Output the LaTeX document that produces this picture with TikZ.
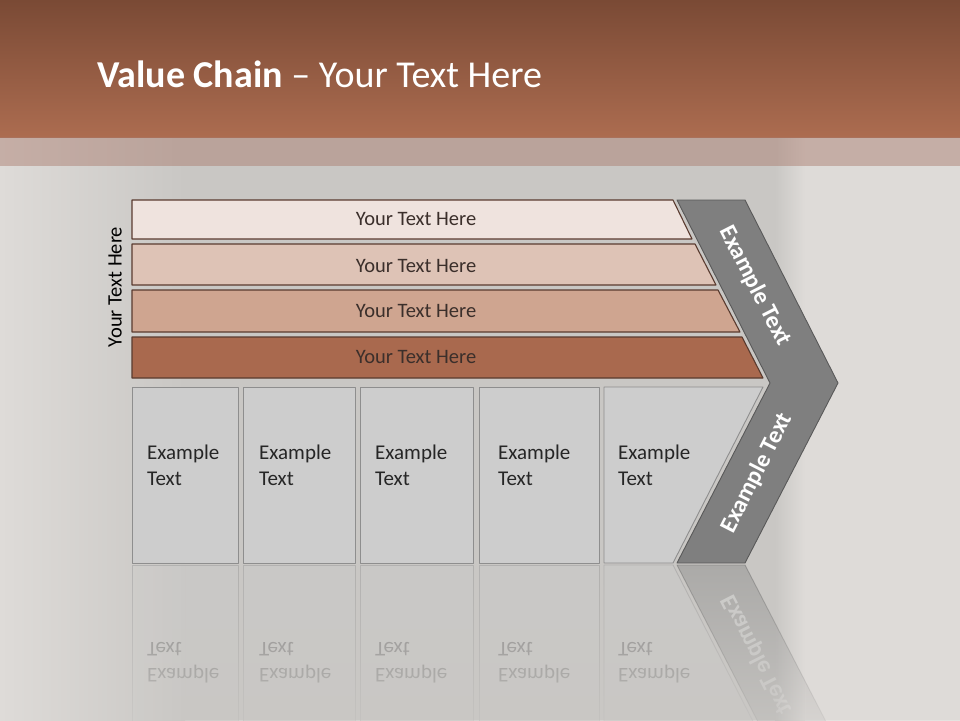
\documentclass[tikz,border=0pt]{standalone}
\usepackage{fontspec}
\setmainfont{Carlito}
\usetikzlibrary{fadings}
\definecolor{fondo}{HTML}{C9C7C4}
\definecolor{fondoclaro}{HTML}{DEDBD8}
\definecolor{cabeceraarriba}{HTML}{7A4A35}
\definecolor{cabeceraabajo}{HTML}{AC6C50}
\definecolor{franja}{HTML}{A8786A}
\definecolor{bordemarron}{HTML}{5A3B2F}
\definecolor{barrauno}{HTML}{EFE3DE}
\definecolor{barrados}{HTML}{DEC3B6}
\definecolor{barratres}{HTML}{CFA590}
\definecolor{barracuatro}{HTML}{A9694E}
\definecolor{textobarra}{HTML}{3B2F2B}
\definecolor{gris}{HTML}{7F7F7F}
\definecolor{grisoscuro}{HTML}{595959}
\definecolor{griscaja}{HTML}{CDCDCD}
\definecolor{bordegris}{HTML}{8E8E8E}
\begin{document}
\begin{tikzpicture}[x=1pt, y=-1pt, line join=round,
  barra/.style={draw=bordemarron, line width=1.1pt},
  caja/.style={fill=griscaja, draw=bordegris, line width=0.9pt},
  flecha/.style={fill=gris, draw=grisoscuro, line width=0.9pt},
  rotulo/.style={text=textobarra, font=\fontsize{20.5}{24}\selectfont, inner sep=0pt},
  ejemplo/.style={anchor=west, align=left, inner sep=0pt, text=black!85,
    font=\fontsize{21}{26}\selectfont},
  flechatexto/.style={text=white, inner sep=0pt, font=\bfseries\fontsize{24}{28}\selectfont},
  borrado/.style={path fading=north}]
  \useasboundingbox (0,0) rectangle (960,720);
  % el fondo gris, mas claro a los lados
  \fill[fondo] (0,0) rectangle (960,720);
  \shade[left color=fondoclaro, right color=fondo] (0,137) rectangle (185,720);
  \shade[left color=fondo, right color=fondoclaro] (775,137) rectangle (805,720);
  \fill[fondoclaro] (805,137) rectangle (960,720);
  % la cabecera y su franja
  \shade[top color=cabeceraarriba, bottom color=cabeceraabajo] (0,0) rectangle (960,137);
  \fill[franja, opacity=0.45] (0,137) rectangle (960,166);
  \node[anchor=west, text=white, inner sep=0pt, font=\fontsize{38}{44}\selectfont] (titulo)
    at (97,74) {\textbf{Value Chain} -- Your Text Here};
  % las cuatro barras de arriba
  \filldraw[barra, fill=barrauno] (132,200) -- (673,200) -- (692,239) -- (132,239) -- cycle;
  \filldraw[barra, fill=barrados] (132,244) -- (695,244) -- (716,285) -- (132,285) -- cycle;
  \filldraw[barra, fill=barratres] (132,290) -- (718,290) -- (740,332) -- (132,332) -- cycle;
  \filldraw[barra, fill=barracuatro] (132,337) -- (742,337) -- (763,378) -- (132,378) -- cycle;
  \node[rotulo] (filauno) at (416,219) {Your Text Here};
  \node[rotulo] (filados) at (416,266) {Your Text Here};
  \node[rotulo] (filatres) at (416,311) {Your Text Here};
  \node[rotulo] (filacuatro) at (416,357) {Your Text Here};
  \node[rotulo, text=black, rotate=90] (lateral) at (115,287) {Your Text Here};
  % la flecha en chevron
  \filldraw[flecha] (677,200) -- (745,200) -- (838,383) -- (745,563) -- (677,563)
    -- (770,383) -- cycle;
  \node[flechatexto, rotate=-63] (flechaarriba) at (755,286) {Example Text};
  \node[flechatexto, rotate=63] (flechaabajo) at (757,473) {Example Text};
  % las cinco cajas de abajo
  \filldraw[caja] (132,387) rectangle (238,563);
  \filldraw[caja] (243,387) rectangle (355,563);
  \filldraw[caja] (360,387) rectangle (473,563);
  \filldraw[caja] (479,387) rectangle (599,563);
  \filldraw[caja] (604,387) -- (763,387) -- (673,563) -- (604,563) -- cycle;
  \node[ejemplo] (cajauno) at (147,465) {Example\\Text};
  \node[ejemplo] (cajados) at (259,465) {Example\\Text};
  \node[ejemplo] (cajatres) at (375,465) {Example\\Text};
  \node[ejemplo] (cajacuatro) at (498,465) {Example\\Text};
  \node[ejemplo] (cajacinco) at (618,465) {Example\\Text};
  % el reflejo, tapado poco a poco con el mismo fondo
  \begin{scope}[shift={(0,1128)}, yscale=-1, opacity=0.4, transform shape]
    \filldraw[caja] (132,387) rectangle (238,563);
    \filldraw[caja] (243,387) rectangle (355,563);
    \filldraw[caja] (360,387) rectangle (473,563);
    \filldraw[caja] (479,387) rectangle (599,563);
    \filldraw[caja] (604,387) -- (763,387) -- (673,563) -- (604,563) -- cycle;
    \filldraw[flecha] (677,563) -- (745,563) -- (838,383) -- (770,383) -- cycle;
    \node[ejemplo] (reflejouno) at (147,465) {Example\\Text};
    \node[ejemplo] (reflejodos) at (259,465) {Example\\Text};
    \node[ejemplo] (reflejotres) at (375,465) {Example\\Text};
    \node[ejemplo] (reflejocuatro) at (498,465) {Example\\Text};
    \node[ejemplo] (reflejocinco) at (618,465) {Example\\Text};
    \node[flechatexto, rotate=63] (reflejoflecha) at (757,473) {Example Text};
  \end{scope}
  \shade[borrado, left color=fondoclaro, right color=fondo] (0,562) rectangle (185,762);
  \fill[borrado, fondo] (185,562) rectangle (775,762);
  \shade[borrado, left color=fondo, right color=fondoclaro] (775,562) rectangle (805,762);
  \fill[borrado, fondoclaro] (805,562) rectangle (960,762);
\end{tikzpicture}
\end{document}
